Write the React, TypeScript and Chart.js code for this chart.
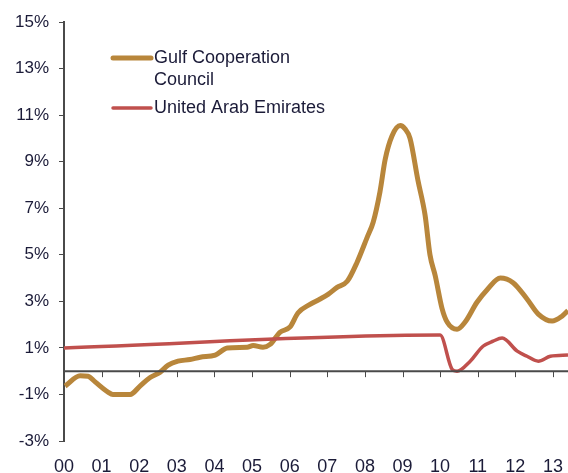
import React, { useEffect, useRef } from "react";
import { Chart, registerables } from "chart.js";

Chart.register(...registerables);

// GCC inflation (%), x = year
const gccYears = [2000.03, 2000.43, 2000.64, 2000.82, 2001.17, 2001.3, 2001.76, 2002.02, 2002.29, 2002.55, 2002.77, 2003.03, 2003.35, 2003.62, 2004.02, 2004.34, 2004.87, 2005.03, 2005.29, 2005.48, 2005.74, 2006.01, 2006.22, 2006.54, 2006.81, 2007.02, 2007.26, 2007.53, 2007.79, 2008.06, 2008.22, 2008.4, 2008.54, 2008.72, 2008.94, 2009.07, 2009.2, 2009.41, 2009.6, 2009.73, 2009.87, 2010.05, 2010.19, 2010.45, 2010.66, 2010.98, 2011.25, 2011.6, 2011.94, 2012.31, 2012.61, 2012.98, 2013.24, 2013.4];
const gccValues = [-0.64, -0.2, -0.22, -0.45, -0.9, -1.0, -1.0, -0.64, -0.27, -0.05, 0.26, 0.43, 0.5, 0.6, 0.69, 1.0, 1.03, 1.1, 1.03, 1.15, 1.67, 1.9, 2.5, 2.87, 3.1, 3.3, 3.6, 3.86, 4.67, 5.75, 6.4, 7.7, 9.1, 10.1, 10.55, 10.4, 10.0, 8.2, 6.7, 5.0, 4.1, 2.7, 2.1, 1.8, 2.1, 2.96, 3.5, 4.0, 3.8, 3.1, 2.45, 2.15, 2.36, 2.6];

// UAE inflation (%)
const uaeYears = [2000.0, 2010.0, 2010.32, 2010.45, 2010.8, 2011.14, 2011.41, 2011.65, 2012.05, 2012.31, 2012.61, 2012.93, 2013.4];
const uaeValues = [1.0, 1.55, 0.08, 0.0, 0.43, 1.07, 1.29, 1.42, 0.86, 0.64, 0.43, 0.64, 0.69];

const seriesLabels = ["Gulf Cooperation\nCouncil", "United Arab Emirates"];
const seriesColors = ["#B8863B", "#C0504D"];
const yTicks = [-3, -1, 1, 3, 5, 7, 9, 11, 13, 15];
const xTickYears = [2000, 2001, 2002, 2003, 2004, 2005, 2006, 2007, 2008, 2009, 2010, 2011, 2012, 2013];

const TEXT = "#1b1b38";
const AXIS = "#4a4a4a";

const extrasPlugin = {
  id: "extras",
  afterDatasetsDraw(chart: any) {
    const ctx = chart.ctx;
    const x = chart.scales.x;
    const y = chart.scales.y;
    const area = chart.chartArea;
    const y0 = y.getPixelForValue(0);
    ctx.save();
    // zero axis line
    ctx.strokeStyle = AXIS;
    ctx.lineWidth = 2;
    ctx.beginPath();
    ctx.moveTo(area.left, y0);
    ctx.lineTo(area.right, y0);
    ctx.stroke();
    // tick marks on zero line
    ctx.lineWidth = 1;
    for (const yr of xTickYears) {
      if (yr === 2000) continue;
      const px = Math.round(x.getPixelForValue(yr)) + 0.5;
      ctx.beginPath();
      ctx.moveTo(px, y0);
      ctx.lineTo(px, y0 + 6);
      ctx.stroke();
    }
    // legend
    const lx = area.left + 49;
    const items = chart.data.datasets;
    const rows = [area.top + 36, area.top + 86];
    ctx.font = "18px 'Liberation Sans', Arial, sans-serif";
    ctx.textBaseline = "middle";
    ctx.textAlign = "left";
    items.forEach((ds: any, i: number) => {
      const ry = rows[i];
      ctx.strokeStyle = ds.borderColor;
      ctx.lineWidth = i === 0 ? 5 : 3.5;
      ctx.lineCap = "round";
      ctx.beginPath();
      ctx.moveTo(lx, ry);
      ctx.lineTo(lx + 38, ry);
      ctx.stroke();
      ctx.fillStyle = TEXT;
      String(ds.label).split("\n").forEach((line: string, j: number) => {
        ctx.fillText(line, lx + 41, ry + j * 22);
      });
    });
    ctx.restore();
  },
};

export default function App() {
  const ref = useRef<HTMLCanvasElement | null>(null);
  useEffect(() => {
    if (!ref.current) return;
    const chart = new Chart(ref.current, {
      type: "line",
      data: {
        datasets: [
          {
            label: seriesLabels[0],
            data: gccYears.map((yr, i) => ({ x: yr, y: gccValues[i] })),
            borderColor: seriesColors[0],
            borderWidth: 5,
            pointRadius: 0,
            cubicInterpolationMode: "monotone",
            order: 1,
          },
          {
            label: seriesLabels[1],
            data: uaeYears.map((yr, i) => ({ x: yr, y: uaeValues[i] })),
            borderColor: seriesColors[1],
            borderWidth: 3.5,
            pointRadius: 0,
            cubicInterpolationMode: "monotone",
            order: 0,
          },
        ],
      },
      options: {
        animation: false,
        responsive: false,
        maintainAspectRatio: false,
        layout: { padding: { top: 22, right: 0, left: 0, bottom: 0 } },
        plugins: { legend: { display: false }, tooltip: { enabled: false } },
        scales: {
          x: {
            type: "linear",
            min: 2000,
            max: 2013.4,
            afterFit: (s: any) => {
              s.height = 32;
              s.paddingRight = 0;
              s.paddingLeft = 0;
            },
            afterBuildTicks: (s: any) => {
              s.ticks = xTickYears.map((v) => ({ value: v }));
            },
            grid: { display: false, drawTicks: false },
            border: { display: false },
            ticks: {
              autoSkip: false,
              maxRotation: 0,
              padding: 15,
              color: TEXT,
              font: { family: "'Liberation Sans', Arial, sans-serif", size: 18 },
              callback: (v: any) => String(Math.round(Number(v)) % 100).padStart(2, "0"),
            },
          },
          y: {
            min: -3,
            max: 15,
            afterFit: (s: any) => {
              s.width = 64;
            },
            afterBuildTicks: (s: any) => {
              s.ticks = yTicks.map((v) => ({ value: v }));
            },
            grid: {
              drawOnChartArea: false,
              drawTicks: true,
              tickLength: 5,
              tickColor: AXIS,
              lineWidth: 1,
            },
            border: { display: true, color: AXIS, width: 2 },
            ticks: {
              padding: 10,
              color: TEXT,
              font: { family: "'Liberation Sans', Arial, sans-serif", size: 17 },
              callback: (v: any) => `${v}%`,
            },
          },
        },
      },
      plugins: [extrasPlugin],
    });
    return () => chart.destroy();
  }, []);
  return (
    <div style={{ position: "absolute", left: 0, top: 0, width: 568, height: 473, background: "#fff" }}>
      <canvas ref={ref} width={568} height={473} style={{ width: 568, height: 473 }} />
    </div>
  );
}
